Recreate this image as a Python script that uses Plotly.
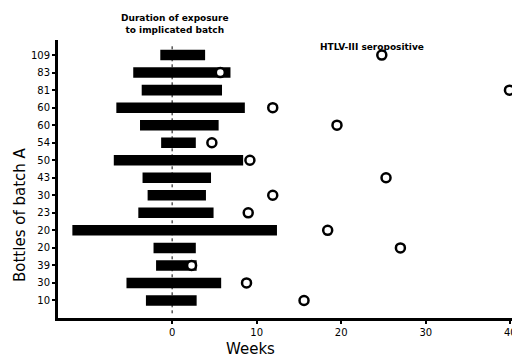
import plotly.graph_objects as go

bottles = ["109", "83", "81", "60", "60", "54", "50", "43", "30", "23", "20", "20", "39", "30", "10"]
exposure_start = [-1.4, -4.6, -3.6, -6.6, -3.8, -1.3, -6.9, -3.5, -2.9, -4.0, -11.8, -2.2, -1.9, -5.4, -3.1]
exposure_end = [3.9, 6.9, 5.9, 8.6, 5.5, 2.8, 8.4, 4.6, 4.0, 4.9, 12.4, 2.8, 2.9, 5.8, 2.9]
seropositive_week = [24.8, 5.7, 39.9, 11.9, 19.5, 4.7, 9.2, 25.3, 11.9, 9.0, 18.4, 27.0, 2.3, 8.8, 15.6]
x_ticks = [0, 10, 20, 30, 40]

W, H = 512, 361
L, R, T, B = 58, 0, 40, 361 - 318
rows = list(range(len(bottles)))
fig = go.Figure()
fig.add_trace(go.Bar(
    y=rows, base=exposure_start,
    x=[e - s for s, e in zip(exposure_start, exposure_end)],
    orientation="h", width=0.6, marker=dict(color="black", line=dict(width=0)),
    showlegend=False, hoverinfo="skip"))
fig.add_trace(go.Scatter(
    x=seropositive_week, y=rows, mode="markers", cliponaxis=False,
    marker=dict(symbol="circle", size=9, color="white", line=dict(color="black", width=2.5)),
    showlegend=False))

fig.add_shape(type="line", x0=0, x1=0, y0=-0.5, y1=14.9, xref="x", yref="y",
              line=dict(color="black", width=1, dash="dot"), layer="below")


def px(x, y):
    return (x - L) / (W - L - R), (H - y - B) / (H - T - B)


anns = [
    ("<b>Duration of exposure<br>to implicated batch</b>", 175, 24, 9, 0),
    ("<b>HTLV-III seropositive</b>", 372, 47, 9, 0),
    ("Weeks", 250, 349, 15, 0),
    ("Bottles of batch A", 20, 215, 15, -90),
]
annotations = []
for text, x, y, size, ang in anns:
    ax, ay = px(x, y)
    annotations.append(dict(text=text, x=ax, y=ay, xref="paper", yref="paper",
                            xanchor="center", yanchor="middle", showarrow=False,
                            textangle=ang, font=dict(size=size), align="center"))

fig.update_layout(
    width=W, height=H, margin=dict(l=L, r=R, t=T, b=B, autoexpand=False),
    paper_bgcolor="white", plot_bgcolor="white", bargap=0.4,
    font=dict(family="DejaVu Sans", color="black"),
    xaxis=dict(range=[-13.5, 40.2], tickvals=x_ticks, ticktext=[str(v) for v in x_ticks],
               showgrid=False, zeroline=False, showline=True, linecolor="black", linewidth=3,
               ticks="outside", ticklen=3, tickwidth=1.5, tickcolor="black", automargin=False,
               ticklabeloverflow="allow",
               tickfont=dict(size=10, family="DejaVu Sans"), fixedrange=True),
    yaxis=dict(range=[15.0, -0.86], tickvals=rows, ticktext=bottles, automargin=False,
               showgrid=False, zeroline=False, showline=True, linecolor="black", linewidth=3,
               ticks="outside", ticklen=3, tickwidth=1.5, tickcolor="black",
               tickfont=dict(size=10, family="DejaVu Sans"), fixedrange=True),
    annotations=annotations,
)
fig.write_html("out.html", config={"displayModeBar": False},
               post_script="document.body.style.margin='0';document.body.style.overflow='hidden';")
